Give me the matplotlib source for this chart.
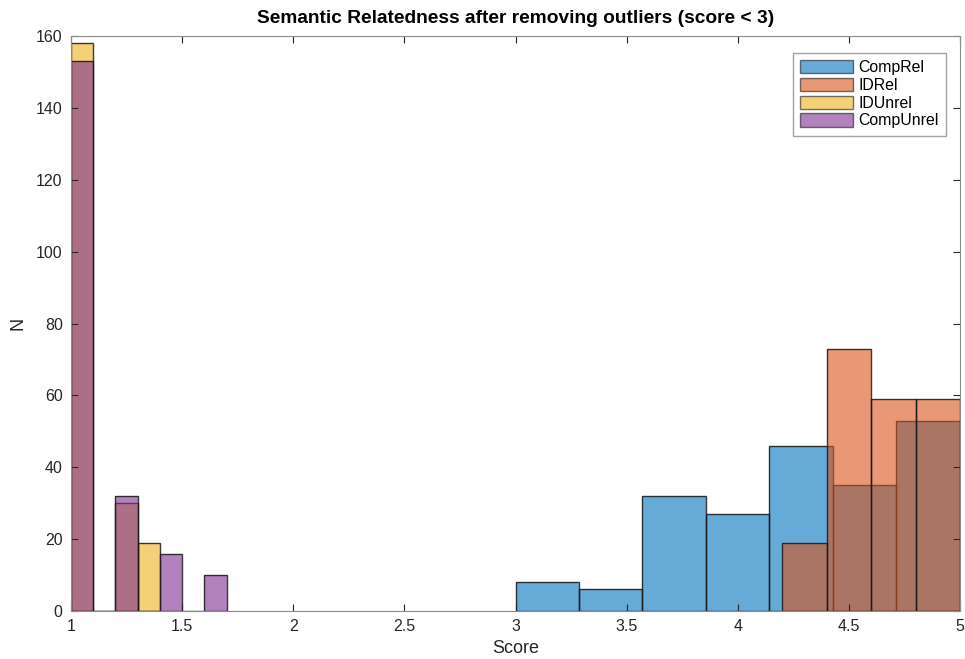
import matplotlib.pyplot as plt
import numpy as np

plt.rcParams['font.family'] = ['Liberation Sans', 'DejaVu Sans']

# bin edges and counts
comp_rel_edges = np.linspace(3, 5, 8)
comp_rel_counts = [8, 6, 32, 27, 46, 35, 53]

id_rel_edges = [4.2, 4.4, 4.6, 4.8, 5.0]
id_rel_counts = [19, 73, 59, 59]

id_unrel_edges = [1.0, 1.1, 1.2, 1.3, 1.4]
id_unrel_counts = [158, 0, 30, 19]

comp_unrel_edges = [1.0, 1.1, 1.2, 1.3, 1.4, 1.5, 1.6, 1.7]
comp_unrel_counts = [153, 0, 32, 0, 16, 0, 10]

series = [
    ("CompRel", comp_rel_edges, comp_rel_counts, "#0072BD"),
    ("IDRel", id_rel_edges, id_rel_counts, "#D95319"),
    ("IDUnrel", id_unrel_edges, id_unrel_counts, "#EDB120"),
    ("CompUnrel", comp_unrel_edges, comp_unrel_counts, "#7E2F8E"),
]

fig = plt.figure(figsize=(9.65, 6.59), dpi=100)
ax = fig.add_axes([0.0736, 0.0728, 0.9212, 0.8726])

for name, edges, counts, color in series:
    edges = np.asarray(edges)
    ax.bar(edges[:-1], counts, width=np.diff(edges), align="edge",
           color=color, alpha=0.6, edgecolor="none", label=name)
    # outlines drawn on top, slightly see-through like matlab
    ax.bar(edges[:-1], counts, width=np.diff(edges), align="edge",
           facecolor="none", edgecolor=(0.1, 0.1, 0.1, 0.85), linewidth=1.0)

ax.set_xlim(1, 5)
ax.set_ylim(0, 160)
ax.set_xticks(np.arange(1, 5.01, 0.5))
ax.set_xticklabels(["1", "1.5", "2", "2.5", "3", "3.5", "4", "4.5", "5"])
ax.set_yticks(np.arange(0, 161, 20))

ax.tick_params(direction="in", top=True, right=True, length=5, width=0.8,
               colors="#262626", labelsize=11.5, pad=6)
for s in ax.spines.values():
    s.set_color("#8c8c8c")
    s.set_linewidth(0.8)

ax.set_xlabel("Score", fontsize=13, color="#262626", labelpad=4)
ax.set_ylabel("N", fontsize=13, color="#262626", labelpad=7)
ax.set_title("Semantic Relatedness after removing outliers (score < 3)",
             fontsize=13.8, fontweight="bold", pad=9)

leg = ax.legend(loc="upper right", bbox_to_anchor=(0.984, 0.971), fontsize=11.4,
                frameon=True, fancybox=False, edgecolor="#8c8c8c",
                handlelength=3.3, handleheight=0.9, handletextpad=0.35,
                labelspacing=0.18, borderpad=0.45, borderaxespad=0)
for h in leg.legend_handles:
    h.set_edgecolor("#1a1a1a")
    h.set_linewidth(1.0)

fig.savefig("out.png", dpi=100)
